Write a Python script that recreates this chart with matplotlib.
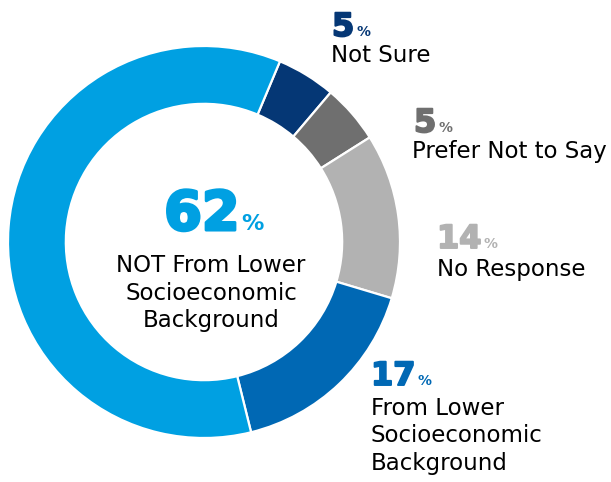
import matplotlib
matplotlib.use("Agg")
import matplotlib.pyplot as plt
import matplotlib.patheffects as pe

# Survey shares, drawn clockwise from just right of 12 o'clock
categories = ["Not Sure", "Prefer Not to Say", "No Response",
              "From Lower\nSocioeconomic\nBackground",
              "NOT From Lower\nSocioeconomic\nBackground"]
values = [5, 5, 14, 17, 62]
colors = ["#053775", "#6f6f6f", "#b2b2b2", "#0068b4", "#00a0e2"]

plt.rcParams["font.family"] = ["DejaVu Sans"]

W, H = 611, 482
fig = plt.figure(figsize=(W / 100, H / 100), dpi=100)
ax = fig.add_axes([0, 0, 1, 1])

cx, cy, R = 204, 240, 196
ax.pie(values, colors=colors, startangle=67.2, counterclock=False,
       center=(cx, cy), radius=R, frame=True,
       wedgeprops=dict(width=R * 0.295, edgecolor="white", linewidth=1.6))
ax.set_xlim(0, W)
ax.set_ylim(0, H)
ax.set_aspect("equal")
ax.axis("off")

fig.canvas.draw()
renderer = fig.canvas.get_renderer()


def value_label(x, y, val, color, size, pct_size, stroke, ha="left"):
    heavy = [pe.withStroke(linewidth=stroke, foreground=color)]
    t = ax.text(x, y, f"{val}", color=color, fontsize=size, fontweight="bold",
                ha="left", va="baseline", path_effects=heavy)
    bb = t.get_window_extent(renderer)
    p = ax.text(bb.x1 + 2, y, "%", color=color, fontsize=pct_size,
                fontweight="bold", ha="left", va="baseline")
    if ha == "center":
        pb = p.get_window_extent(renderer)
        shift = (pb.x1 - bb.x0) / 2
        t.set_x(x - shift)
        p.set_x(bb.x1 + 2 - bb.x0 + x - shift)


def text_lines(x, y0, lines, step, ha="left"):
    for i, line in enumerate(lines):
        ax.text(x, y0 - i * step, line, color="black", fontsize=16.5,
                ha=ha, va="baseline")


# centre label for the largest share
value_label(214, 252, values[4], colors[4], 39, 16, 2.2, ha="center")
text_lines(211, 210.5, categories[4].split("\n"), 28, ha="center")

# outside labels
value_label(332, 446, values[0], colors[0], 23, 10, 1.4)
text_lines(331, 420, [categories[0]], 28)

value_label(414, 350, values[1], colors[1], 23, 10, 1.4)
text_lines(412, 324, [categories[1]], 28)

value_label(437, 234, values[2], colors[2], 23, 10, 1.4)
text_lines(437, 206, [categories[2]], 28)

value_label(371, 97, values[3], colors[3], 23, 10, 1.4)
text_lines(371, 67, categories[3].split("\n"), 27.5)

fig.savefig("out.png", dpi=100)
